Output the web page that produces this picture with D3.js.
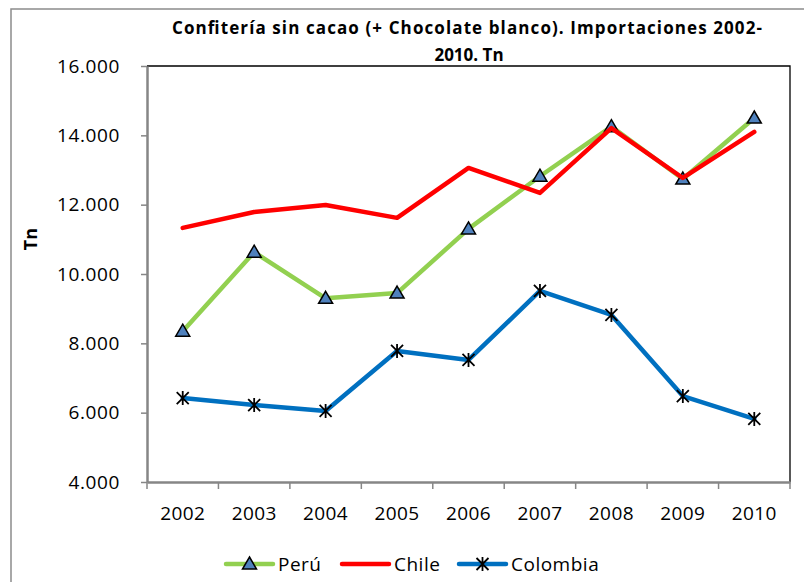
<!DOCTYPE html>
<html>
<head>
<meta charset="utf-8">
<script src="https://cdn.jsdelivr.net/npm/d3@7"></script>
<style>
  body { margin: 0; background: #fff; }
  text { font-family: "Open Sans", sans-serif; fill: #000; }
</style>
</head>
<body>
<svg id="chart" width="804" height="582"></svg>
<script>
const years = ["2002", "2003", "2004", "2005", "2006", "2007", "2008", "2009", "2010"];
const peru = [8350, 10630, 9300, 9450, 11300, 12820, 14250, 12740, 14500];
const chile = [11330, 11790, 11990, 11620, 13060, 12340, 14210, 12770, 14100];
const colombia = [6420, 6220, 6050, 7780, 7520, 9510, 8820, 6480, 5820];
const yTicks = [4000, 6000, 8000, 10000, 12000, 14000, 16000];

const series = [
  { name: "Perú", values: peru, color: "#92D050", marker: "triangle" },
  { name: "Chile", values: chile, color: "#FF0000", marker: "none" },
  { name: "Colombia", values: colombia, color: "#0070C0", marker: "star" },
];

const svg = d3.select("#chart");
const plotLeft = 147, plotRight = 790, plotTop = 66, plotBottom = 482;

const x = d3.scaleBand().domain(years).range([plotLeft, plotRight]);
const y = d3.scaleLinear().domain([4000, 16000]).range([plotBottom, plotTop]);
const fmt = d3.formatLocale({ decimal: ",", thousands: ".", grouping: [3], currency: ["", ""] }).format(",d");

// outer chart border
svg.append("rect")
  .attr("x", 11).attr("y", 9)
  .attr("width", 810).attr("height", 600)
  .attr("fill", "#fff")
  .attr("stroke", "#8c8c8c")
  .attr("stroke-width", 1.5);

// plot border (top + right)
svg.append("path")
  .attr("d", `M${plotLeft},${plotTop}H${plotRight}V${plotBottom}`)
  .attr("fill", "none")
  .attr("stroke", "#000")
  .attr("stroke-width", 1.3);

// y axis
const yAxis = svg.append("g")
  .attr("transform", `translate(${plotLeft},0)`)
  .call(d3.axisLeft(y).tickValues(yTicks).tickFormat(fmt).tickSize(6).tickSizeOuter(0).tickPadding(21));
yAxis.select(".domain").attr("stroke", "#868686").attr("stroke-width", 2.5);
yAxis.selectAll(".tick line").attr("stroke", "#868686").attr("stroke-width", 1.5);
yAxis.selectAll("text")
  .style("font-size", "19px").style("font-family", "Open Sans").style("letter-spacing", "0.6px")
  .attr("fill", "#000");

// x axis
const xAxis = svg.append("g")
  .attr("transform", `translate(0,${plotBottom})`)
  .call(d3.axisBottom(x).tickSize(0).tickPadding(25));
xAxis.select(".domain").attr("stroke", "#868686").attr("stroke-width", 2.5);
xAxis.selectAll("text")
  .style("font-size", "19px").style("font-family", "Open Sans").style("letter-spacing", "0.4px")
  .attr("fill", "#000");
xAxis.selectAll(".boundary")
  .data(years.map((d) => x(d)).concat([plotRight]))
  .enter()
  .append("line")
  .attr("x1", (d) => d).attr("x2", (d) => d)
  .attr("y1", 0).attr("y2", 7)
  .attr("stroke", "#868686")
  .attr("stroke-width", 1.5);

// y axis title
svg.append("text")
  .attr("transform", "translate(37,239) rotate(-90)")
  .attr("text-anchor", "middle")
  .style("font-size", "18px")
  .style("font-weight", "bold")
  .text("Tn");

// chart title
const title = svg.append("text")
  .attr("text-anchor", "middle")
  .style("font-size", "17px")
  .style("font-weight", "bold");
title.append("tspan").attr("x", 467).attr("y", 34)
  .attr("textLength", 590).attr("lengthAdjust", "spacing")
  .text("Confitería sin cacao (+ Chocolate blanco).  Importaciones 2002-");
title.append("tspan").attr("x", 469).attr("y", 61).text("2010. Tn");

const cx = (i) => x(years[i]) + x.bandwidth() / 2;

const line = d3.line()
  .x((d, i) => cx(i))
  .y((d) => y(d));

const drawMarker = (g, type, px, py) => {
  if (type === "triangle") {
    g.append("path")
      .attr("d", `M${px},${py - 7}L${px + 7},${py + 5}L${px - 7},${py + 5}Z`)
      .attr("fill", "#4F81BD")
      .attr("stroke", "#000")
      .attr("stroke-width", 1.5);
  } else if (type === "star") {
    g.append("path")
      .attr("d", `M${px - 6},${py - 6}L${px + 6},${py + 6}M${px + 6},${py - 6}L${px - 6},${py + 6}M${px},${py - 7}V${py + 7}`)
      .attr("stroke", "#000")
      .attr("stroke-width", 1.8)
      .attr("fill", "none");
  }
};

series.forEach((s) => {
  const g = svg.append("g");
  g.append("path")
    .datum(s.values)
    .attr("d", line)
    .attr("fill", "none")
    .attr("stroke", s.color)
    .attr("stroke-width", 4.5)
    .attr("stroke-linejoin", "round")
    .attr("stroke-linecap", "round");
  s.values.forEach((v, i) => drawMarker(g, s.marker, cx(i), y(v)));
});

// legend
const legendItems = [
  { x1: 226, tx: 278 },
  { x1: 342, tx: 394 },
  { x1: 459, tx: 511 },
];
series.forEach((s, i) => {
  const p = legendItems[i];
  const g = svg.append("g");
  g.append("line")
    .attr("x1", p.x1).attr("x2", p.x1 + 47)
    .attr("y1", 564).attr("y2", 564)
    .attr("stroke", s.color)
    .attr("stroke-width", 4.5)
    .attr("stroke-linecap", "round");
  drawMarker(g, s.marker, p.x1 + 23.5, 564);
  g.append("text")
    .attr("x", p.tx).attr("y", 571)
    .style("font-size", "19px")
    .style("letter-spacing", "0.5px")
    .text(s.name);
});
</script>
</body>
</html>
